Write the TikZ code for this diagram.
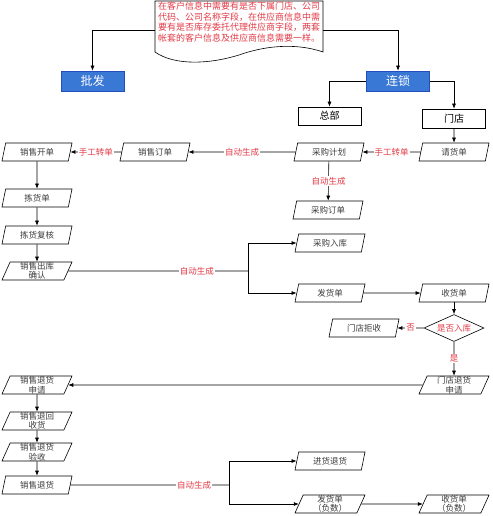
\documentclass[tikz,border=0pt]{standalone}
\usepackage{fontspec}
\setmainfont{Noto Sans CJK SC}
\usetikzlibrary{arrows.meta,shapes.geometric}
\definecolor{lblred}{RGB}{226,58,70}
\definecolor{boxblue}{RGB}{58,120,214}
\definecolor{boxedge}{RGB}{36,78,190}
\definecolor{txtgray}{RGB}{60,60,60}
\tikzset{
    >={Latex[length=5pt,width=4pt]},
    flow/.style={
        io/.append style={draw,trapezium,trapezium left angle=65,trapezium right angle=115,trapezium stretches body,minimum width=70pt,minimum height=18pt,inner sep=0pt,align=center,text=txtgray,font=\fontsize{8.5}{9.5}\selectfont},
        sys/.append style={draw=boxedge,fill=boxblue,text=white,minimum width=63pt,minimum height=20pt,inner sep=0pt,font=\fontsize{12}{12}\selectfont},
        unit/.append style={draw,minimum width=63pt,minimum height=18pt,inner sep=0pt,font=\fontsize{10}{10}\selectfont},
        check/.append style={draw,diamond,aspect=2.3,minimum width=60pt,minimum height=27pt,inner sep=0pt,text=lblred,font=\fontsize{8.5}{8.5}\selectfont},
        lbl/.append style={fill=white,inner sep=1pt,text=lblred,font=\fontsize{8.5}{8.5}\selectfont},
        notebox/.append style={align=left,inner sep=0pt,text=lblred,font=\fontsize{9}{10.5}\selectfont},
        every edge/.append style={draw,->},
        line width=0.6pt
    }
}

\begin{document}
\begin{tikzpicture}[flow,x=1pt,y=-1pt]
    \useasboundingbox (0,0) rectangle (492,516);
    % note on top
    \draw (155,1) -- (323,1) -- (323,52) .. controls (300,44) and (270,44) .. (239,55) .. controls (210,64) and (175,66) .. (155,52) -- cycle;
    \node[notebox] (note) at (239,22) {在客户信息中需要有是否下属门店、公司\\代码、公司名称字段，在供应商信息中需\\要有是否库存委托代理供应商字段，两套\\帐套的客户信息及供应商信息需要一样。};
    \coordinate (noteL) at (155,30);
    \coordinate (noteR) at (323,30);
    \node[sys] (pf) at (92.5,81) {批发};
    \node[sys] (ls) at (398,81) {连锁};
    \draw[->] (noteL) -| (pf);
    \draw[->] (noteR) -| (ls);
    \node[unit] (zb) at (329.5,116) {总部};
    \node[unit,minimum height=19pt] (md) at (454,118.5) {门店};
    \draw[->] (ls.west) -| (zb);
    \draw[->] (ls.east) -| (md);

    % order flow
    \node[io] (qhd) at (454,152) {请货单} edge[<-] (md);
    \node[io] (cgjh) at (329,152) {采购计划} edge[<-] node[lbl]{手工转单} (qhd);
    \node[io] (cgdd) at (328,210) {采购订单} edge[<-] node[lbl]{自动生成} (cgjh);
    \node[io] (xsdd) at (155,152) {销售订单} edge[<-] node[lbl]{自动生成} (cgjh);
    \node[io] (xskd) at (37,152) {销售开单} edge[<-] node[lbl]{手工转单} (xsdd);
    \node[io] (jhd) at (37,198) {拣货单} edge[<-] (xskd);
    \node[io] (jhfh) at (37,235) {拣货复核} edge[<-] (jhd);
    \node[io] (xsck) at (37,271) {销售出库\\确认} edge[<-] (jhfh);

    % delivery
    \node[io] (cgrk) at (330,243) {采购入库};
    \node[io] (fhd) at (330,293) {发货单};
    \coordinate (sp1) at (248,271);
    \draw (xsck) -- node[lbl,pos=0.715]{自动生成} (sp1);
    \draw[->] (sp1) |- (cgrk);
    \draw[->] (sp1) |- (fhd);
    \node[io] (shd) at (454,293) {收货单} edge[<-] (fhd);
    \node[check] (sfrk) at (454,328) {是否入库} edge[<-] (shd);
    \node[io] (mdjs) at (364,328) {门店拒收} edge[<-] node[lbl]{否} (sfrk);
    \node[io] (mdth) at (454,385) {门店退货\\申请} edge[<-] node[lbl]{是} (sfrk);

    % returns
    \node[io] (xsth) at (37,385) {销售退货\\申请} edge[<-] (mdth);
    \node[io] (xshs) at (37,421) {销售退回\\收货} edge[<-] (xsth);
    \node[io] (xsys) at (37,452) {销售退货\\验收} edge[<-] (xshs);
    \node[io] (xstu) at (37,485) {销售退货} edge[<-] (xsys);
    \node[io] (jhtu) at (330,461) {进货退货};
    \node[io] (fhdf) at (330,504) {发货单\\（负数）};
    \coordinate (sp2) at (229,485);
    \draw (xstu) -- node[lbl,pos=0.78]{自动生成} (sp2);
    \draw[->] (sp2) |- (jhtu);
    \draw[->] (sp2) |- (fhdf);
    \node[io] (shdf) at (454,504) {收货单\\（负数）} edge[<-] (fhdf);
\end{tikzpicture}
\end{document}
